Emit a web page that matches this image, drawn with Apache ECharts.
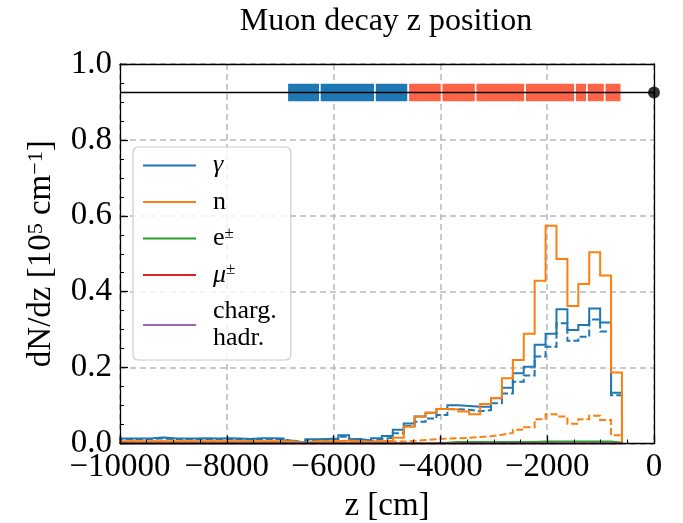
<!DOCTYPE html>
<html>
<head>
<meta charset="utf-8">
<script src="https://cdn.jsdelivr.net/npm/echarts@6/dist/echarts.min.js"></script>
<style>
  html, body { margin: 0; padding: 0; background: #fff; }
  #chart { width: 683px; height: 523px; }
</style>
</head>
<body>
<div id="chart"></div>
<script>
// Histogram binning along z (cm)
const zFirstEdge = -10000;
const zLastEdge = -600;
const binCount = 46;

// dN/dz per bin [1e5 / cm]
const gammaAll = [
  0.013, 0.013, 0.014, 0.016, 0.014, 0.013, 0.013, 0.014, 0.013, 0.014,
  0.013, 0.012, 0.014, 0.014, 0.013, 0.007, 0.002, 0.011, 0.012, 0.013,
  0.022, 0.012, 0.008, 0.014, 0.020, 0.036, 0.053, 0.071, 0.081, 0.091,
  0.101, 0.099, 0.097, 0.097, 0.119, 0.147, 0.185, 0.202, 0.260, 0.289,
  0.354, 0.299, 0.312, 0.356, 0.319, 0.134
];
const gammaSel = [
  0.011, 0.011, 0.012, 0.013, 0.012, 0.011, 0.011, 0.012, 0.011, 0.012,
  0.011, 0.010, 0.012, 0.012, 0.011, 0.006, 0.001, 0.009, 0.010, 0.011,
  0.018, 0.010, 0.007, 0.012, 0.015, 0.027, 0.046, 0.057, 0.066, 0.075,
  0.090, 0.089, 0.085, 0.088, 0.106, 0.132, 0.163, 0.179, 0.229, 0.255,
  0.317, 0.271, 0.281, 0.327, 0.295, 0.127
];
const neutronAll = [
  0.006, 0.006, 0.006, 0.006, 0.006, 0.006, 0.006, 0.006, 0.006, 0.006,
  0.006, 0.006, 0.006, 0.006, 0.006, 0.005, 0.002, 0.006, 0.006, 0.006,
  0.008, 0.006, 0.005, 0.006, 0.007, 0.015, 0.044, 0.071, 0.081, 0.091,
  0.090, 0.084, 0.077, 0.104, 0.120, 0.172, 0.220, 0.289, 0.429, 0.574,
  0.486, 0.362, 0.420, 0.504, 0.443, 0.187
];
const neutronSel = [
  0.005, 0.005, 0.005, 0.005, 0.005, 0.005, 0.005, 0.005, 0.005, 0.005,
  0.005, 0.005, 0.005, 0.005, 0.005, 0.004, 0.001, 0.005, 0.005, 0.005,
  0.006, 0.005, 0.004, 0.005, 0.005, 0.005, 0.007, 0.009, 0.011, 0.013,
  0.014, 0.015, 0.017, 0.019, 0.023, 0.028, 0.036, 0.043, 0.064, 0.077,
  0.071, 0.052, 0.064, 0.073, 0.062, 0.022
];
const electronAll = [
  0, 0, 0, 0, 0, 0, 0, 0, 0, 0,
  0, 0, 0, 0, 0, 0, 0, 0, 0, 0,
  0, 0, 0, 0, 0, 0, 0, 0, 0, 0.002,
  0.004, 0.004, 0.004, 0.004, 0.004, 0.004, 0.004, 0.004, 0.005, 0.005,
  0.005, 0.005, 0.005, 0.005, 0.005, 0.002
];
const muonAll = [
  0, 0, 0, 0, 0, 0, 0, 0, 0, 0,
  0, 0, 0, 0, 0, 0, 0, 0, 0, 0,
  0, 0, 0, 0, 0, 0, 0, 0, 0, 0,
  0, 0, 0, 0, 0, 0, 0, 0, 0, 0,
  0, 0, 0, 0, 0, 0
];
const hadronAll = [
  0, 0, 0, 0, 0, 0, 0, 0, 0, 0,
  0, 0, 0, 0, 0, 0, 0, 0, 0, 0,
  0, 0, 0, 0, 0, 0, 0, 0, 0, 0,
  0, 0, 0, 0, 0, 0, 0, 0, 0, 0,
  0, 0, 0, 0, 0, 0
];

// Detector elements drawn as a strip along the beam line
const segEdges = [-6867, -6257, -5225, -4601, -3976, -3339, -2413, -1477, -1255, -923, -612];
const segKind = ['a', 'a', 'a', 'b', 'b', 'b', 'b', 'b', 'b', 'b'];
const segLow = 0.90;
const segHigh = 0.95;
const beamLevel = 0.925;
const beamStart = -10000;
const beamEnd = 0;
const targetZ = 0;

// Axis ranges / ticks
const xMin = -10000, xMax = 0, xStep = 2000;
const yMin = 0, yMax = 1, yStep = 0.2;

const SERIF = '"Liberation Serif", "DejaVu Serif", serif';
const C = {
  blue: '#1f77b4', orange: '#ff7f0e', green: '#2ca02c',
  red: '#d62728', purple: '#9467bd', segA: '#1f77b4', segB: '#ff6347'
};

const binWidth = (zLastEdge - zFirstEdge) / binCount;
const edges = [];
for (let k = 0; k <= binCount; k++) edges.push(zFirstEdge + k * binWidth);

// outline of a step histogram starting and ending on the baseline
function stepOutline(values) {
  const pts = [[edges[0], 0]];
  values.forEach((v, k) => { pts.push([edges[k], v]); pts.push([edges[k + 1], v]); });
  pts.push([edges[values.length], 0]);
  return pts;
}

function histSeries(name, values, color, dashed) {
  return {
    type: 'line', name: name, data: stepOutline(values),
    xAxisIndex: 0, yAxisIndex: 0,
    symbol: 'none', showSymbol: false, silent: true, animation: false,
    lineStyle: { color: color, width: 2, type: dashed ? [7, 3] : 'solid', cap: 'butt', join: 'miter' },
    itemStyle: { color: color }
  };
}

const minus = s => s.replace('-', '\u2212');

const chart = echarts.init(document.getElementById('chart'), null, { renderer: 'canvas' });

const frameLine = { color: '#000', width: 1.3 };

const legendText = {
  'γ': '{it|γ}',
  'n': 'n',
  'e±': 'e{sup|±}',
  'μ±': '{it|μ}{sup|±}',
  'charg. hadr.': 'charg.\nhadr.'
};

chart.setOption({
  animation: false,
  backgroundColor: '#fff',
  title: {
    text: 'Muon decay z position',
    left: 386, top: 6, textAlign: 'center', padding: 0,
    textStyle: { fontFamily: SERIF, fontSize: 32, fontWeight: 'normal', color: '#000' }
  },
  grid: { left: 120, right: 29, top: 64, bottom: 79.5, outerBoundsMode: 'none', containLabel: false },
  legend: {
    data: ['γ', 'n', 'e±', 'μ±', 'charg. hadr.'],
    orient: 'vertical', left: 133, top: 147,
    padding: [5, 14, 8, 9],
    itemGap: 9.5, itemWidth: 53, itemHeight: 2,
    backgroundColor: 'rgba(255,255,255,0.8)',
    borderColor: '#cccccc', borderWidth: 1.2, borderRadius: 5,
    selectedMode: false,
    formatter: name => legendText[name],
    textStyle: {
      fontFamily: SERIF, fontSize: 26, color: '#000', lineHeight: 27, padding: [0, 0, 0, 12],
      rich: {
        it: { fontFamily: SERIF, fontSize: 26, fontStyle: 'italic', lineHeight: 27 },
        sup: { fontFamily: SERIF, fontSize: 17, verticalAlign: 'top', lineHeight: 14 }
      }
    }
  },
  xAxis: [
    {
      type: 'value', min: xMin, max: xMax, interval: xStep, position: 'bottom',
      axisLine: { show: false }, axisTick: { show: false }, minorTick: { show: false },
      splitLine: { show: true, lineStyle: { color: '#b8b8b8', width: 1.5, type: [6, 4] } },
      axisLabel: {
        fontFamily: SERIF, fontSize: 33, color: '#000', margin: 7,
        showMinLabel: true, showMaxLabel: true,
        formatter: v => minus(String(v))
      },
      name: 'z [cm]', nameLocation: 'middle', nameGap: 46,
      nameTextStyle: { fontFamily: SERIF, fontSize: 33, color: '#000' }
    },
    {
      type: 'value', min: xMin, max: xMax, interval: xStep, position: 'bottom', z: 10,
      axisLine: { show: true, onZero: false, lineStyle: frameLine },
      axisTick: { show: true, inside: true, length: 8, lineStyle: frameLine },
      minorTick: { show: true, splitNumber: 4, length: 4, lineStyle: { color: '#000', width: 1 } },
      axisLabel: { show: false }, splitLine: { show: false }
    },
    {
      type: 'value', min: xMin, max: xMax, interval: xStep, position: 'top', z: 10,
      axisLine: { show: true, onZero: false, lineStyle: frameLine },
      axisTick: { show: false }, axisLabel: { show: false }, splitLine: { show: false }
    }
  ],
  yAxis: [
    {
      type: 'value', min: yMin, max: yMax, interval: yStep, position: 'left',
      axisLine: { show: false }, axisTick: { show: false }, minorTick: { show: false },
      splitLine: { show: true, lineStyle: { color: '#b8b8b8', width: 1.5, type: [6, 4] } },
      axisLabel: {
        fontFamily: SERIF, fontSize: 33, color: '#000', margin: 8,
        showMinLabel: true, showMaxLabel: true,
        formatter: v => v.toFixed(1)
      },
      name: 'dN/dz [10{sup|5} cm{sup|\u22121}]', nameLocation: 'middle', nameGap: 62, nameRotate: 90,
      nameTextStyle: {
        fontFamily: SERIF, fontSize: 33, color: '#000',
        rich: { sup: { fontFamily: SERIF, fontSize: 22, verticalAlign: 'top', lineHeight: 18 } }
      }
    },
    {
      type: 'value', min: yMin, max: yMax, interval: yStep, position: 'left', z: 10,
      axisLine: { show: true, onZero: false, lineStyle: frameLine },
      axisTick: { show: true, inside: true, length: 8, lineStyle: frameLine },
      minorTick: { show: true, splitNumber: 4, length: 4, lineStyle: { color: '#000', width: 1 } },
      axisLabel: { show: false }, splitLine: { show: false }
    },
    {
      type: 'value', min: yMin, max: yMax, interval: yStep, position: 'right', z: 10,
      axisLine: { show: true, onZero: false, lineStyle: frameLine },
      axisTick: { show: false }, axisLabel: { show: false }, splitLine: { show: false }
    }
  ],
  series: [
    histSeries('γ', gammaAll, C.blue, false),
    histSeries('γ, selected', gammaSel, C.blue, true),
    histSeries('n', neutronAll, C.orange, false),
    histSeries('n, selected', neutronSel, C.orange, true),
    histSeries('e±', electronAll, C.green, false),
    histSeries('μ±', muonAll, C.red, false),
    histSeries('charg. hadr.', hadronAll, C.purple, false),
    {
      type: 'custom', name: 'detector', xAxisIndex: 0, yAxisIndex: 0, silent: true, z: 4,
      data: segKind.map((kind, i) => [segEdges[i], segEdges[i + 1], kind === 'a' ? 0 : 1]),
      encode: { x: [0, 1] },
      renderItem: (params, api) => {
        const p0 = api.coord([api.value(0), segHigh]);
        const p1 = api.coord([api.value(1), segLow]);
        return {
          type: 'rect',
          shape: { x: p0[0], y: p0[1], width: p1[0] - p0[0], height: p1[1] - p0[1] },
          style: { fill: api.value(2) === 0 ? C.segA : C.segB, stroke: '#fff', lineWidth: 1.6 }
        };
      }
    },
    {
      type: 'line', name: 'beam', xAxisIndex: 0, yAxisIndex: 0, z: 5,
      data: [[beamStart, beamLevel], [beamEnd, beamLevel]],
      symbol: 'none', silent: true, lineStyle: { color: '#000', width: 1.6 }
    },
    {
      type: 'scatter', name: 'target', xAxisIndex: 0, yAxisIndex: 0, z: 11, clip: false,
      data: [[targetZ, beamLevel]], symbol: 'circle', symbolSize: 12, silent: true,
      itemStyle: { color: '#000' }
    }
  ]
});
</script>
</body>
</html>
